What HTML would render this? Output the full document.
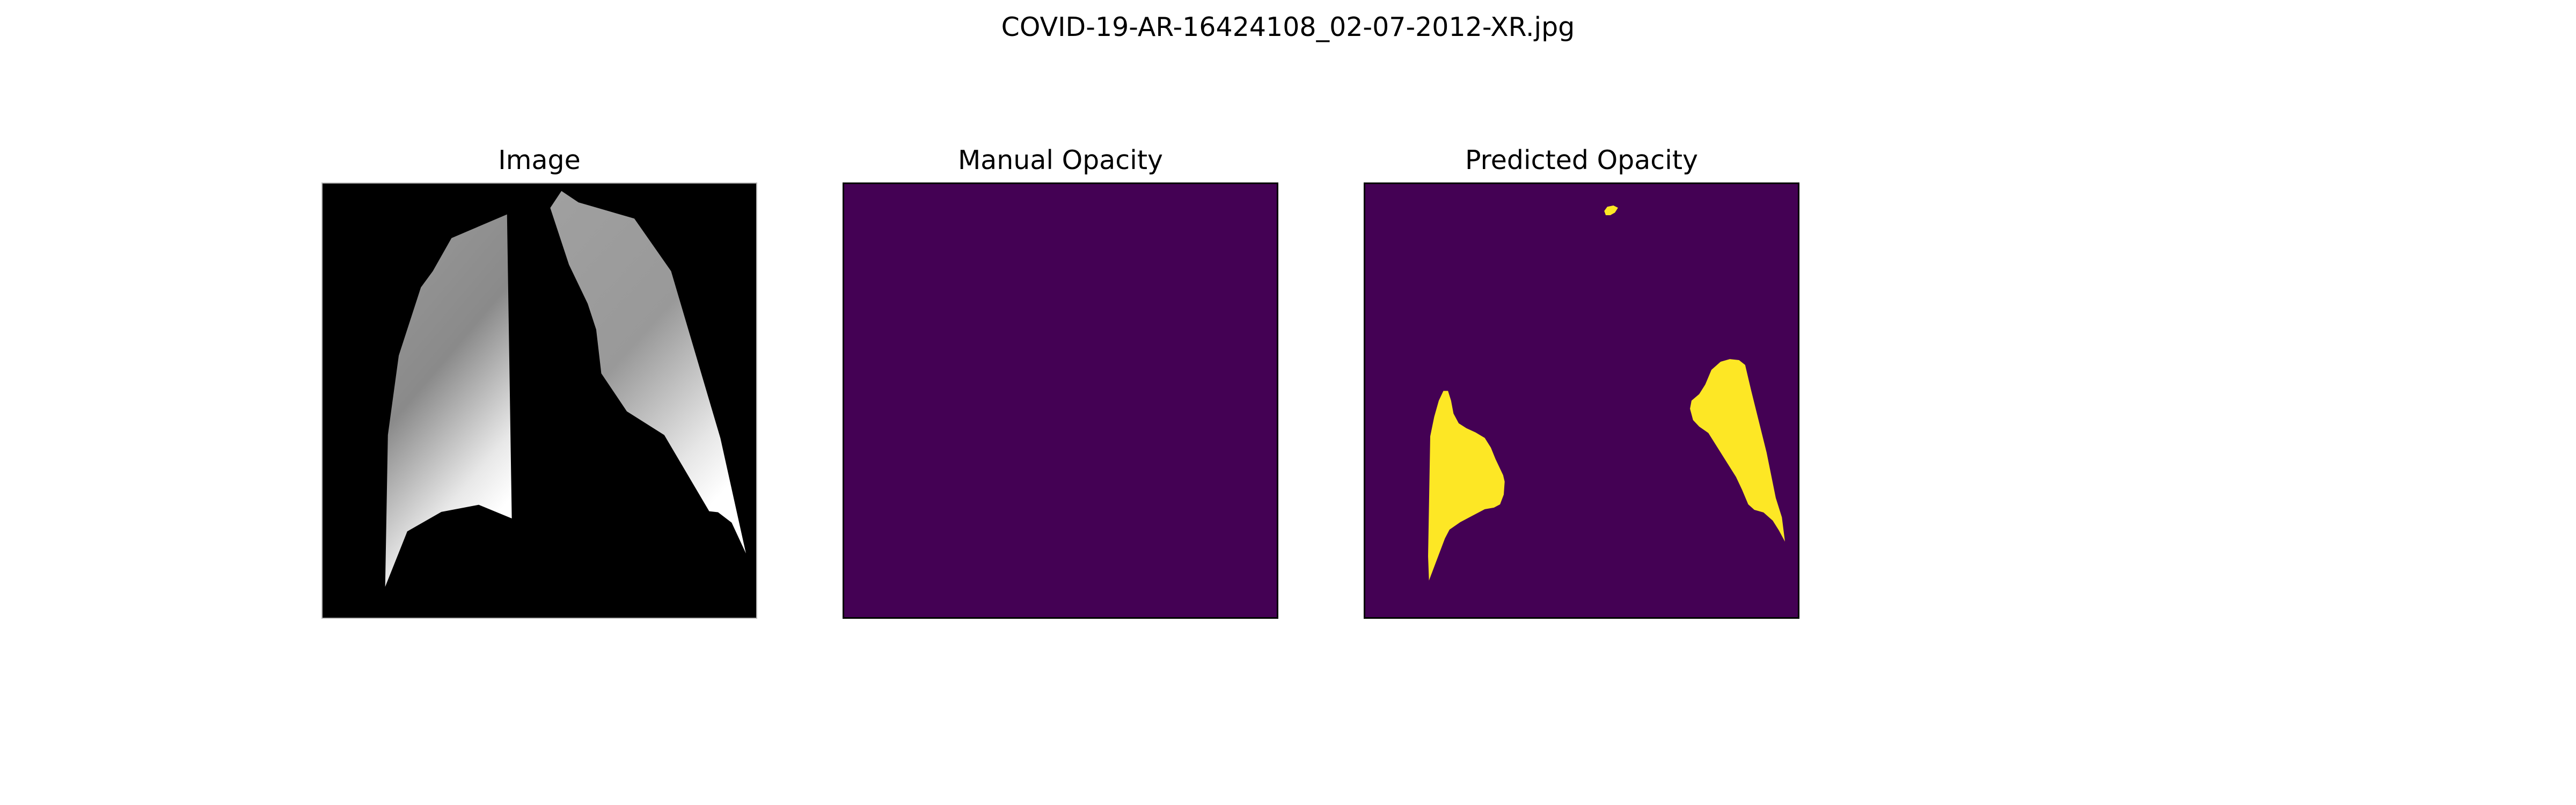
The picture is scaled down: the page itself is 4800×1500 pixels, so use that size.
<!DOCTYPE html>
<html><head><meta charset="utf-8"><style>
body{margin:0;background:#fff;}
#fig{position:relative;width:4800px;height:1500px;background:#fff;font-family:"DejaVu Sans","Liberation Sans",sans-serif;overflow:hidden;}
.t{position:absolute;text-align:center;color:#000;font-size:49px;line-height:1;white-space:nowrap;transform:translateX(-50%);}
.ax{position:absolute;top:340px;width:812px;height:813px;box-sizing:border-box;}
.ax svg{position:absolute;left:0;top:0;width:100%;height:100%;}
</style></head><body>
<div id="fig">
<div class="t" style="left:2400px;top:26px">COVID-19-AR-16424108_02-07-2012-XR.jpg</div>
<div class="t" style="left:1005px;top:274px">Image</div>
<div class="t" style="left:1976px;top:274px">Manual Opacity</div>
<div class="t" style="left:2947px;top:274px">Predicted Opacity</div>

<div class="ax" style="left:599px;background:#000;border:2px solid #bbb">
<svg viewBox="76 150 1274 1338" preserveAspectRatio="none">
<defs>
<linearGradient id="gl" x1="0" y1="0" x2="0.4" y2="1"><stop offset="0" stop-color="#9a9a9a"/><stop offset="0.5" stop-color="#8a8a8a"/><stop offset="0.85" stop-color="#e8e8e8"/><stop offset="1" stop-color="#fff"/></linearGradient>
<linearGradient id="gr" x1="0" y1="0" x2="0.6" y2="1"><stop offset="0" stop-color="#a0a0a0"/><stop offset="0.5" stop-color="#999"/><stop offset="0.85" stop-color="#e6e6e6"/><stop offset="1" stop-color="#fff"/></linearGradient>
</defs>
<g id="lungs"></g>
</svg></div>

<div class="ax" style="left:1570px;background:#440154;border:3px solid #000"></div>

<div class="ax" style="left:2541px;background:#440154;border:3px solid #000">
<svg viewBox="70 152 1412 1336" preserveAspectRatio="none"><g id="blobs"></g></svg></div>
</div>
<script>
const leftLung=[[455,318],[618,245],[632,1182],[535,1140],[425,1162],[325,1222],[260,1393],[268,925],[300,680],[365,470],[400,420]];
const rightLung=[[778,173],[828,208],[992,258],[1100,420],[1245,935],[1320,1290],[1278,1195],[1238,1163],[1212,1160],[1080,925],[970,852],[895,735],[880,600],[855,520],[800,400],[745,225]];
const leftBlob=[[278,1375],[275,1300],[282,930],[295,870],[310,820],[325,790],[340,790],[350,820],[358,860],[375,890],[400,905],[430,918],[460,935],[480,965],[495,1000],[510,1030],[520,1050],[525,1070],[522,1110],[510,1140],[490,1150],[460,1155],[420,1175],[380,1195],[345,1218],[330,1245],[300,1320]];
const rightBlob=[[1130,845],[1135,820],[1160,800],[1180,770],[1200,725],[1230,700],[1260,692],[1290,695],[1310,710],[1330,790],[1380,980],[1410,1120],[1430,1180],[1440,1255],[1420,1220],[1400,1190],[1370,1165],[1340,1157],[1320,1140],[1300,1095],[1280,1055],[1240,995],[1190,920],[1160,900],[1140,880]];
const smallBlob=[[850,235],[860,222],[880,218],[895,225],[885,240],[870,248],[855,248]];
const NS="http://www.w3.org/2000/svg";
function poly(g,pts,fill,name){
  const p=document.createElementNS(NS,"polygon");
  p.setAttribute("points",pts.map(a=>a.join(",")).join(" "));
  p.setAttribute("fill",fill);
  
  
  g.appendChild(p);
}
const L=document.getElementById("lungs"),B=document.getElementById("blobs");
poly(L,leftLung,"url(#gl)","right-lung-region");
poly(L,rightLung,"url(#gr)","left-lung-region");
poly(B,leftBlob,"#fde725","predicted-opacity-left");
poly(B,rightBlob,"#fde725","predicted-opacity-right");
poly(B,smallBlob,"#fde725","predicted-opacity-small");
</script>
</body></html>
